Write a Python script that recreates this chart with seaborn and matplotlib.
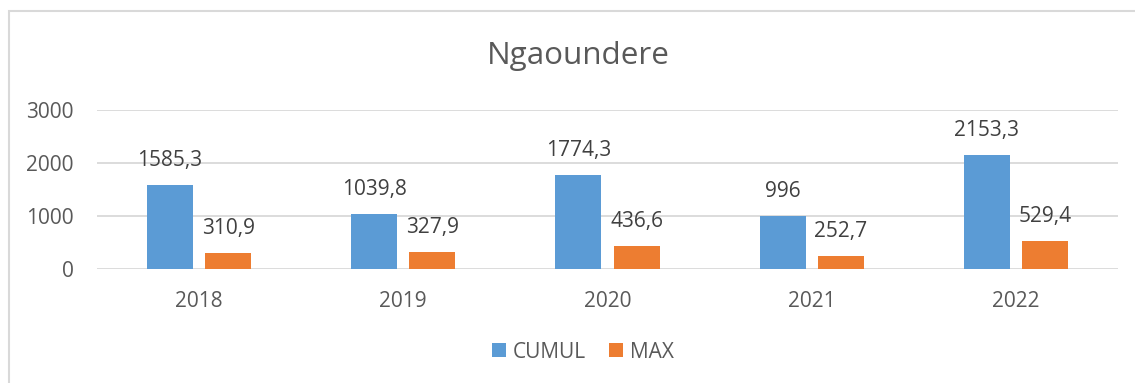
import matplotlib
matplotlib.use("Agg")
import matplotlib.pyplot as plt
import seaborn as sns
import pandas as pd
from matplotlib.patches import Rectangle, Patch

# Annual rainfall, Ngaoundere station
years = ["2018", "2019", "2020", "2021", "2022"]
cumul = [1585.3, 1039.8, 1774.3, 996, 2153.3]
maximum = [310.9, 327.9, 436.6, 252.7, 529.4]
series_names = ["CUMUL", "MAX"]
yticks = [0, 1000, 2000, 3000]

BLUE = "#5B9BD5"
ORANGE = "#ED7D31"
TEXT = "#595959"
GRID = "#D9D9D9"

df = pd.DataFrame({
    "year": years * 2,
    "value": cumul + maximum,
    "series": [series_names[0]] * len(years) + [series_names[1]] * len(years),
})

sns.set_theme(style="white")
plt.rcParams["font.family"] = ["Open Sans", "DejaVu Sans"]

fig = plt.figure(figsize=(11.35, 3.83), dpi=100)
ax = fig.add_axes([97 / 1135, 1 - 269 / 383, (1118 - 97) / 1135, (269 - 110) / 383])

sns.barplot(data=df, x="year", y="value", hue="series", order=years,
            hue_order=series_names, palette=[BLUE, ORANGE],
            width=0.57, gap=0.21, ax=ax, legend=False, saturation=1,
            linewidth=0, edgecolor="none")

ax.set_xlim(-0.5, len(years) - 0.5)
ax.set_ylim(0, 3000)
ax.set_yticks(yticks)
ax.set_yticklabels([str(t) for t in yticks])
ax.set_xlabel("")
ax.set_ylabel("")
for s in ax.spines.values():
    s.set_visible(False)
ax.grid(False)
for t in yticks:
    ax.axhline(t, color=GRID, lw=1.3, zorder=0)
ax.tick_params(axis="both", length=0, labelsize=15, labelcolor=TEXT)
ax.tick_params(axis="x", pad=16)
ax.tick_params(axis="y", pad=17)


def fmt(v):
    return f"{v:g}".replace(".", ",")


for container in ax.containers:
    for bar in container:
        h = bar.get_height()
        ax.annotate(fmt(h), (bar.get_x() + bar.get_width() / 2, h),
                    xytext=(0, 13.5), textcoords="offset points",
                    ha="center", va="baseline", fontsize=15, color="#404040")

fig.text(578 / 1135, 1 - 56 / 383, "Ngaoundere", ha="center", va="center",
         fontsize=22.6, color=TEXT)

handles = [Patch(facecolor=BLUE, edgecolor="none"),
           Patch(facecolor=ORANGE, edgecolor="none")]
fig.legend(handles, series_names, loc="center", bbox_to_anchor=(583 / 1135, 1 - 352 / 383),
           ncol=2, frameon=False, fontsize=15, labelcolor=TEXT,
           handlelength=0.65, handleheight=0.65, handletextpad=0.35, columnspacing=1.1)

# Chart area frame
fig.patches.append(Rectangle((8.5 / 1135, -0.1), 1.2, 1 - 11 / 383 + 0.1,
                             transform=fig.transFigure, fill=False,
                             edgecolor=GRID, lw=1.5, figure=fig))

fig.savefig("out.png", dpi=100)
